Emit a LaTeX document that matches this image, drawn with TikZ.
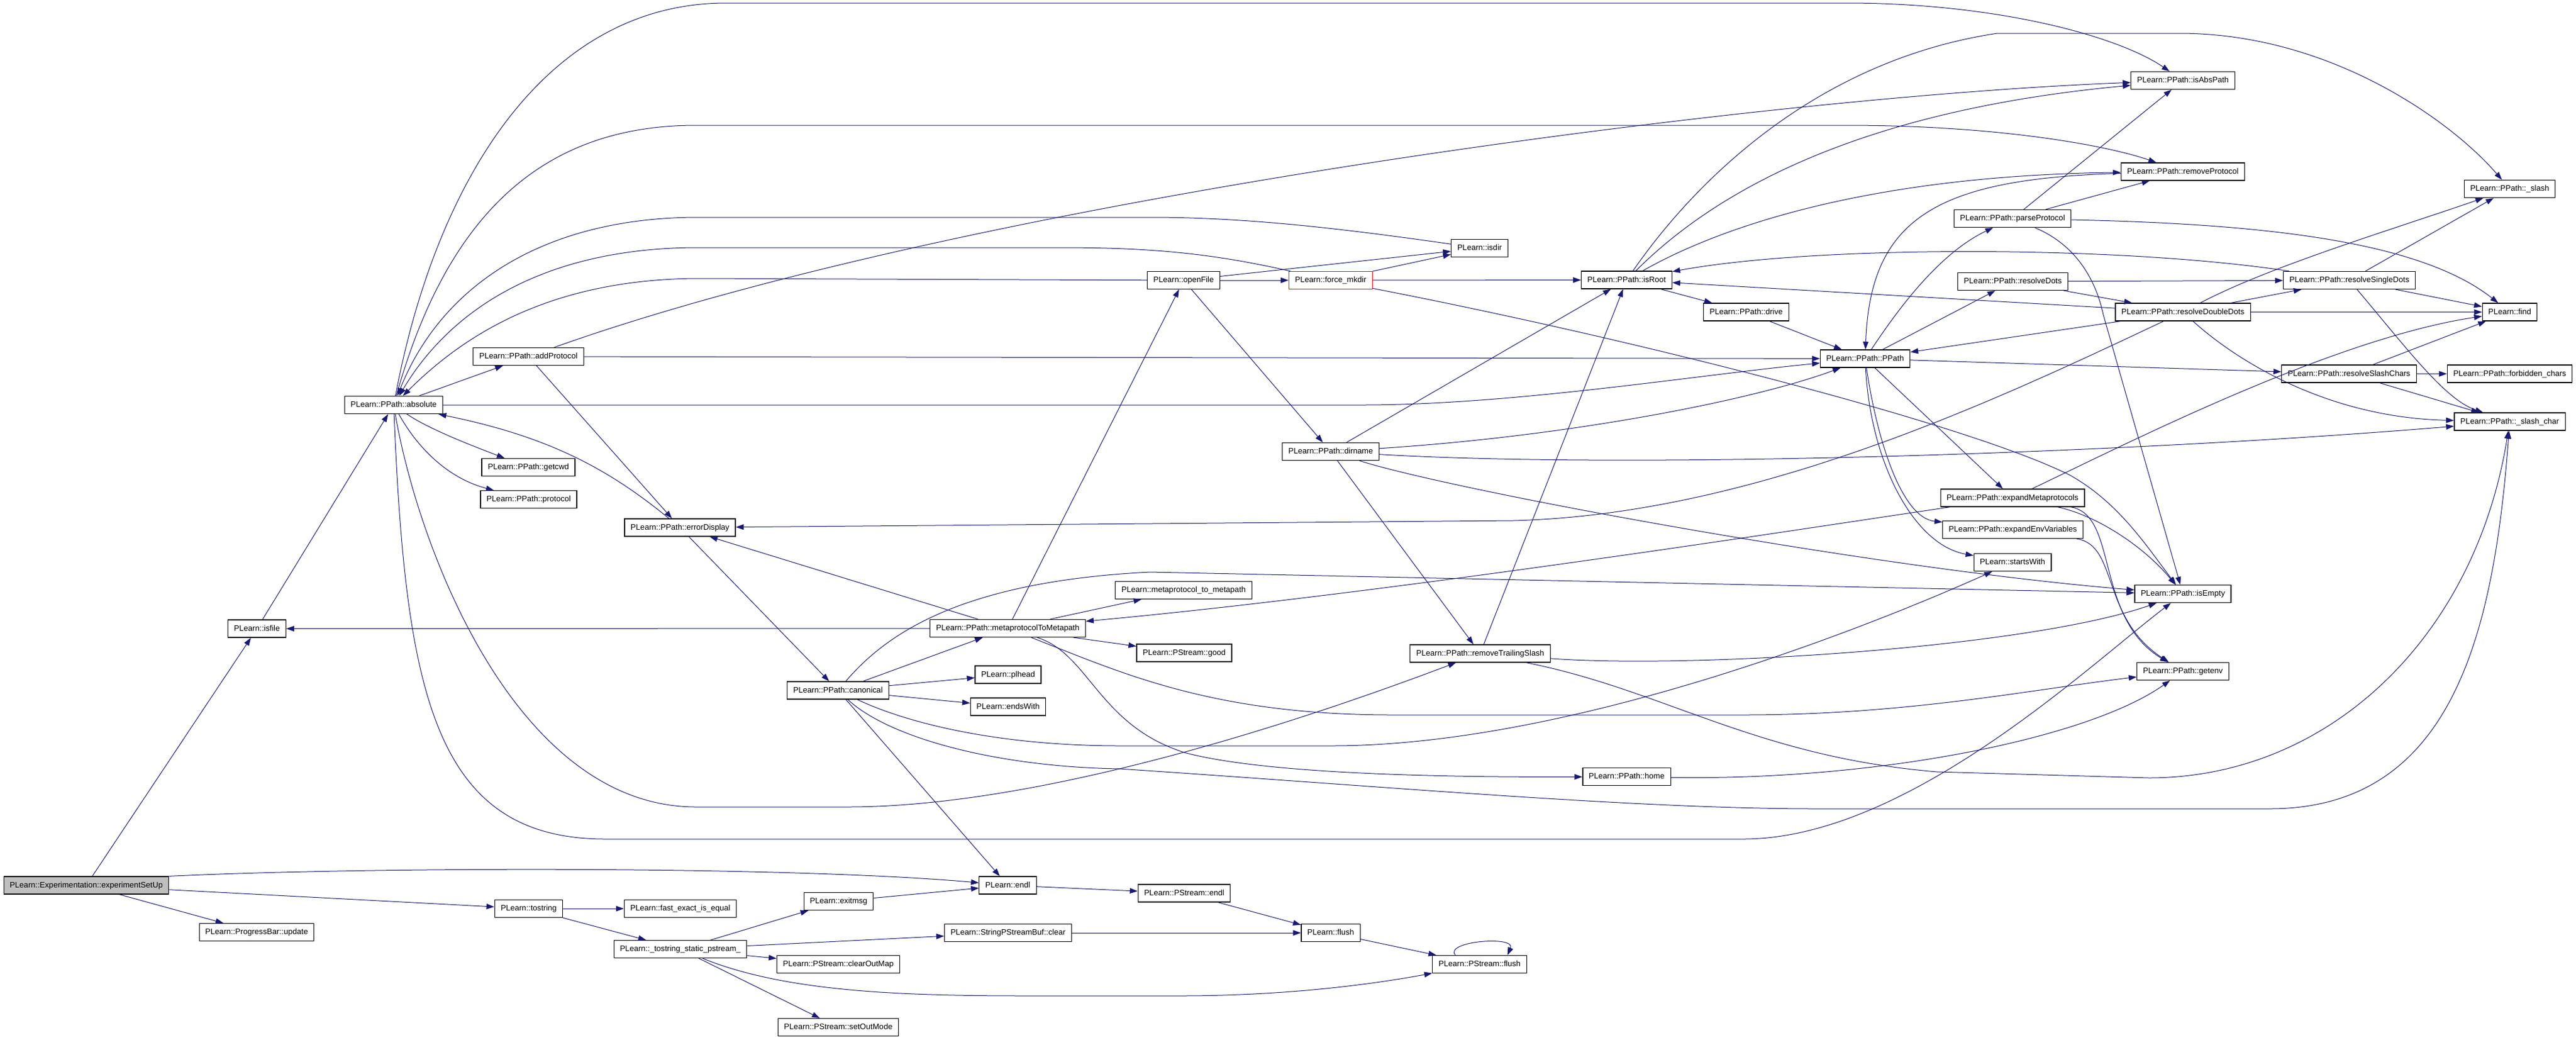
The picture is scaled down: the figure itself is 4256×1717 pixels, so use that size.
\documentclass[tikz,border=0pt]{standalone}
\usepackage{fontspec}
\setmainfont{Liberation Sans}
\usetikzlibrary{arrows.meta}
\definecolor{kante}{HTML}{191970}
\definecolor{grau}{HTML}{BFBFBF}
\tikzset{
	fkt/.style={draw=black, fill=white, line width=1.2pt, minimum height=29pt,
	inner xsep=10pt, inner ysep=0pt, text height=10pt, text depth=3pt,
	font=\fontsize{13.1}{15}\selectfont},
	pfeil/.style={draw=kante, line width=1pt, -{Triangle[length=13pt, width=9pt]}}
}
\begin{document}
\begin{tikzpicture}[x=1pt, y=-1pt]
	\useasboundingbox (0, 0) rectangle (4256, 1717);
	% Funktionen
	\node[fkt, fill=grau] (exp) at (142.5, 1462.5) {PLearn::Experimentation::experimentSetUp};
	\node[fkt] (upd) at (424, 1540) {PLearn::ProgressBar::update};
	\node[fkt] (isfile) at (424.5, 1038.5) {PLearn::isfile};
	\node[fkt] (absolute) at (650.5, 669) {PLearn::PPath::absolute};
	\node[fkt] (addProtocol) at (873, 589) {PLearn::PPath::addProtocol};
	\node[fkt] (getcwd) at (873, 772) {PLearn::PPath::getcwd};
	\node[fkt] (protocol) at (873.5, 825) {PLearn::PPath::protocol};
	\node[fkt] (tostring) at (873.5, 1501) {PLearn::tostring};
	\node[fkt] (errorDisplay) at (1123.5, 871.5) {PLearn::PPath::errorDisplay};
	\node[fkt] (fastequal) at (1124, 1501) {PLearn::fast\_exact\_is\_equal};
	\node[fkt] (pstreamtostring) at (1124, 1568) {PLearn::\_tostring\_static\_pstream\_};
	\node[fkt] (canonical) at (1384.5, 1140.5) {PLearn::PPath::canonical};
	\node[fkt] (exitmsg) at (1385.5, 1489) {PLearn::exitmsg};
	\node[fkt] (clearOutMap) at (1385, 1593) {PLearn::PStream::clearOutMap};
	\node[fkt] (setOutMode) at (1385, 1697) {PLearn::PStream::setOutMode};
	\node[fkt] (metaToMeta) at (1665, 1038) {PLearn::PPath::metaprotocolToMetapath};
	\node[fkt] (plhead) at (1665.5, 1114.5) {PLearn::plhead};
	\node[fkt] (endsWith) at (1665.5, 1167.5) {PLearn::endsWith};
	\node[fkt] (endl) at (1665, 1462.5) {PLearn::endl};
	\node[fkt] (spsbclear) at (1665.5, 1541) {PLearn::StringPStreamBuf::clear};
	\node[fkt] (openFile) at (1955.5, 463) {PLearn::openFile};
	\node[fkt] (metaunderscore) at (1955.5, 975) {PLearn::metaprotocol\_to\_metapath};
	\node[fkt] (good) at (1956.5, 1078.5) {PLearn::PStream::good};
	\node[fkt] (pendl) at (1956.5, 1475.5) {PLearn::PStream::endl};
	\node[fkt, draw=red] (forcemkdir) at (2198.5, 463) {PLearn::force\_mkdir};
	\node[fkt] (dirname) at (2198.5, 746) {PLearn::PPath::dirname};
	\node[fkt] (flush) at (2198.5, 1541) {PLearn::flush};
	\node[fkt] (isdir) at (2444.5, 410) {PLearn::isdir};
	\node[fkt] (removeTrailingSlash) at (2445.5, 1079.5) {PLearn::PPath::removeTrailingSlash};
	\node[fkt] (pflush) at (2444.5, 1593) {PLearn::PStream::flush};
	\node[fkt] (isRoot) at (2687.5, 462.5) {PLearn::PPath::isRoot};
	\node[fkt] (home) at (2687.5, 1283) {PLearn::PPath::home};
	\node[fkt] (drive) at (2885, 515.5) {PLearn::PPath::drive};
	\node[fkt] (ppath) at (3081.5, 592.5) {PLearn::PPath::PPath};
	\node[fkt] (parseProtocol) at (3325, 361) {PLearn::PPath::parseProtocol};
	\node[fkt] (resolveDots) at (3325.5, 465) {PLearn::PPath::resolveDots};
	\node[fkt] (expandMeta) at (3325, 822.5) {PLearn::PPath::expandMetaprotocols};
	\node[fkt] (expandEnv) at (3325.5, 875) {PLearn::PPath::expandEnvVariables};
	\node[fkt] (startsWith) at (3325, 929) {PLearn::startsWith};
	\node[fkt] (isAbsPath) at (3606.5, 133) {PLearn::PPath::isAbsPath};
	\node[fkt] (removeProtocol) at (3606.5, 283.5) {PLearn::PPath::removeProtocol};
	\node[fkt] (resolveDoubleDots) at (3606.5, 515.5) {PLearn::PPath::resolveDoubleDots};
	\node[fkt] (isEmpty) at (3606.5, 981) {PLearn::PPath::isEmpty};
	\node[fkt] (getenv) at (3606.5, 1109) {PLearn::PPath::getenv};
	\node[fkt] (resolveSingleDots) at (3881.5, 463) {PLearn::PPath::resolveSingleDots};
	\node[fkt] (resolveSlashChars) at (3881, 617.5) {PLearn::PPath::resolveSlashChars};
	\node[fkt] (slash) at (4146.5, 312) {PLearn::PPath::\_slash};
	\node[fkt] (find) at (4146.5, 515.5) {PLearn::find};
	\node[fkt] (forbiddenChars) at (4146.5, 617.5) {PLearn::PPath::forbidden\_chars};
	\node[fkt] (slashChar) at (4146.5, 696.5) {PLearn::PPath::\_slash\_char};

	% gerade Aufrufe
	\foreach \a/\b in {exp/isfile, exp/upd, exp/tostring, isfile/absolute,
		absolute/addProtocol, addProtocol/errorDisplay, addProtocol/ppath,
		errorDisplay/canonical, tostring/fastequal, tostring/pstreamtostring,
		pstreamtostring/exitmsg, pstreamtostring/spsbclear,
		pstreamtostring/clearOutMap, pstreamtostring/setOutMode,
		canonical/metaToMeta, canonical/plhead, canonical/endsWith, canonical/endl,
		exitmsg/endl, endl/pendl, spsbclear/flush, metaToMeta/errorDisplay,
		metaToMeta/isfile, metaToMeta/openFile, metaToMeta/metaunderscore,
		metaToMeta/good, openFile/forcemkdir, openFile/isdir, openFile/dirname,
		forcemkdir/isdir, forcemkdir/isRoot, dirname/isRoot,
		dirname/removeTrailingSlash, pendl/flush, flush/pflush,
		removeTrailingSlash/isRoot, isRoot/drive, drive/ppath, ppath/resolveDots,
		ppath/resolveSlashChars, ppath/expandMeta, parseProtocol/isAbsPath,
		parseProtocol/removeProtocol, resolveDots/resolveSingleDots,
		resolveDots/resolveDoubleDots, resolveDoubleDots/isRoot,
		resolveDoubleDots/ppath, resolveDoubleDots/resolveSingleDots,
		resolveDoubleDots/find, resolveSingleDots/slash, resolveSingleDots/find,
		resolveSlashChars/forbiddenChars, resolveSlashChars/find,
		resolveSlashChars/slashChar}
		\draw[pfeil] (\a) -- (\b);

	% gebogene Aufrufe
	\draw[pfeil] (exp.north east) .. controls (600, 1432) and (1300, 1430) .. (endl);
	\draw[pfeil] (absolute) .. controls (710, 710) and (790, 740) .. (getcwd);
	\draw[pfeil] (absolute) .. controls (690, 740) and (740, 790) .. (protocol);
	\draw[pfeil] (absolute) .. controls (720, 300) and (900, 5) .. (1200, 5)
		-- (3050, 5) .. controls (3300, 5) and (3500, 60) .. (isAbsPath);
	\draw[pfeil] (absolute) .. controls (740, 350) and (900, 207) .. (1150, 207)
		-- (3050, 207) .. controls (3300, 207) and (3480, 240) .. (removeProtocol);
	\draw[pfeil] (absolute) -- (2250, 669) .. controls (2500, 669) and (2800, 620) .. (ppath);
	\draw[pfeil] (absolute) .. controls (690, 900) and (850, 1333) .. (1150, 1333)
		-- (1400, 1333) .. controls (1700, 1333) and (2100, 1210) .. (removeTrailingSlash);
	\draw[pfeil] (absolute) .. controls (670, 1150) and (720, 1386) .. (1000, 1386)
		-- (2880, 1386) .. controls (3150, 1386) and (3450, 1100) .. (isEmpty);
	\draw[pfeil] (addProtocol) .. controls (1600, 330) and (2900, 160) .. (isAbsPath);
	\draw[pfeil] (errorDisplay) .. controls (1000, 770) and (900, 720) .. (absolute);
	\draw[pfeil] (pstreamtostring) .. controls (1300, 1640) and (1500, 1645) .. (1700, 1645)
		-- (1950, 1645) .. controls (2150, 1645) and (2300, 1620) .. (pflush);
	\draw[pfeil] (canonical) .. controls (1470, 1040) and (1600, 960) .. (1900, 945) -- (isEmpty);
	\draw[pfeil] (canonical) .. controls (1500, 1195) and (1650, 1232) .. (1850, 1232)
		-- (2200, 1232) .. controls (2600, 1232) and (3100, 1030) .. (startsWith);
	\draw[pfeil] (canonical) .. controls (1470, 1220) and (1650, 1267) .. (1850, 1270)
		.. controls (2300, 1300) and (2700, 1336) .. (3000, 1336)
		-- (3750, 1336) .. controls (4050, 1336) and (4120, 1050) .. (slashChar);
	\draw[pfeil] (metaToMeta) .. controls (1850, 1110) and (2000, 1181) .. (2300, 1181)
		-- (2880, 1181) .. controls (3150, 1181) and (3350, 1140) .. (getenv);
	\draw[pfeil] (metaToMeta) .. controls (1800, 1080) and (1815, 1200) .. (1960, 1244)
		.. controls (2100, 1280) and (2400, 1284) .. (home);
	\draw[pfeil] (openFile) -- (1150, 460) .. controls (900, 462) and (760, 560) .. (absolute);
	\draw[pfeil] (forcemkdir) .. controls (2000, 418) and (1900, 409) .. (1750, 409)
		-- (1150, 409) .. controls (900, 410) and (745, 510) .. (absolute);
	\draw[pfeil] (isdir) .. controls (2200, 375) and (2050, 359) .. (1900, 359)
		-- (1150, 359) .. controls (900, 360) and (730, 470) .. (absolute);
	\draw[pfeil] (forcemkdir) .. controls (2700, 560) and (3250, 700) .. (3420, 785)
		.. controls (3500, 830) and (3545, 900) .. (isEmpty);
	\draw[pfeil] (dirname) .. controls (2600, 720) and (2900, 660) .. (ppath);
	\draw[pfeil] (dirname) .. controls (2700, 775) and (3500, 750) .. (slashChar);
	\draw[pfeil] (dirname) .. controls (2400, 810) and (3100, 940) .. (isEmpty);
	\draw[pfeil] (removeTrailingSlash) .. controls (2800, 1105) and (3350, 1070) .. (isEmpty);
	\draw[pfeil] (removeTrailingSlash) .. controls (2750, 1140) and (2900, 1250) .. (3200, 1275)
		-- (3550, 1285) .. controls (3850, 1285) and (4090, 1050) .. (slashChar);
	\draw[pfeil] ([xshift=-40pt]pflush.north) .. controls (2385, 1555) and (2505, 1545)
		.. ([xshift=46pt]pflush.north);
	\draw[pfeil] (isRoot) .. controls (2800, 300) and (3000, 100) .. (3300, 55)
		-- (3600, 55) .. controls (3850, 55) and (4050, 200) .. (slash);
	\draw[pfeil] (isRoot) .. controls (2850, 300) and (3100, 180) .. (isAbsPath);
	\draw[pfeil] (isRoot) .. controls (2850, 370) and (3100, 290) .. (removeProtocol);
	\draw[pfeil] (home) .. controls (3100, 1290) and (3450, 1220) .. (getenv);
	\draw[pfeil] (ppath) .. controls (3130, 520) and (3200, 420) .. (parseProtocol);
	\draw[pfeil] (ppath) .. controls (3100, 720) and (3140, 855) .. (expandEnv);
	\draw[pfeil] (ppath) .. controls (3090, 760) and (3160, 900) .. (startsWith);
	\draw[pfeil] (removeProtocol) .. controls (3200, 295) and (3090, 360) .. (ppath);
	\draw[pfeil] (parseProtocol) .. controls (3420, 400) and (3460, 450) .. (3475, 520) -- (isEmpty);
	\draw[pfeil] (parseProtocol) .. controls (3750, 370) and (4000, 400) .. (find);
	\draw[pfeil] (resolveDoubleDots) .. controls (3300, 660) and (2900, 850) .. (2500, 860)
		-- (errorDisplay);
	\draw[pfeil] (resolveDoubleDots) .. controls (3750, 440) and (3950, 380) .. (slash);
	\draw[pfeil] (resolveDoubleDots) .. controls (3700, 600) and (3850, 690) .. (slashChar);
	\draw[pfeil] (resolveSingleDots) .. controls (3500, 405) and (3000, 405) .. (isRoot);
	\draw[pfeil] (resolveSingleDots) .. controls (3980, 580) and (4040, 660) .. (slashChar);
	\draw[pfeil] (expandMeta) .. controls (3000, 870) and (2300, 980) .. (metaToMeta);
	\draw[pfeil] (expandMeta) .. controls (3460, 850) and (3540, 900) .. (isEmpty);
	\draw[pfeil] (expandMeta) .. controls (3500, 850) and (3460, 1020) .. (getenv);
	\draw[pfeil] (expandMeta) .. controls (3500, 740) and (3850, 560) .. (find);
	\draw[pfeil] (expandEnv) .. controls (3500, 900) and (3470, 1020) .. (getenv);
\end{tikzpicture}
\end{document}
